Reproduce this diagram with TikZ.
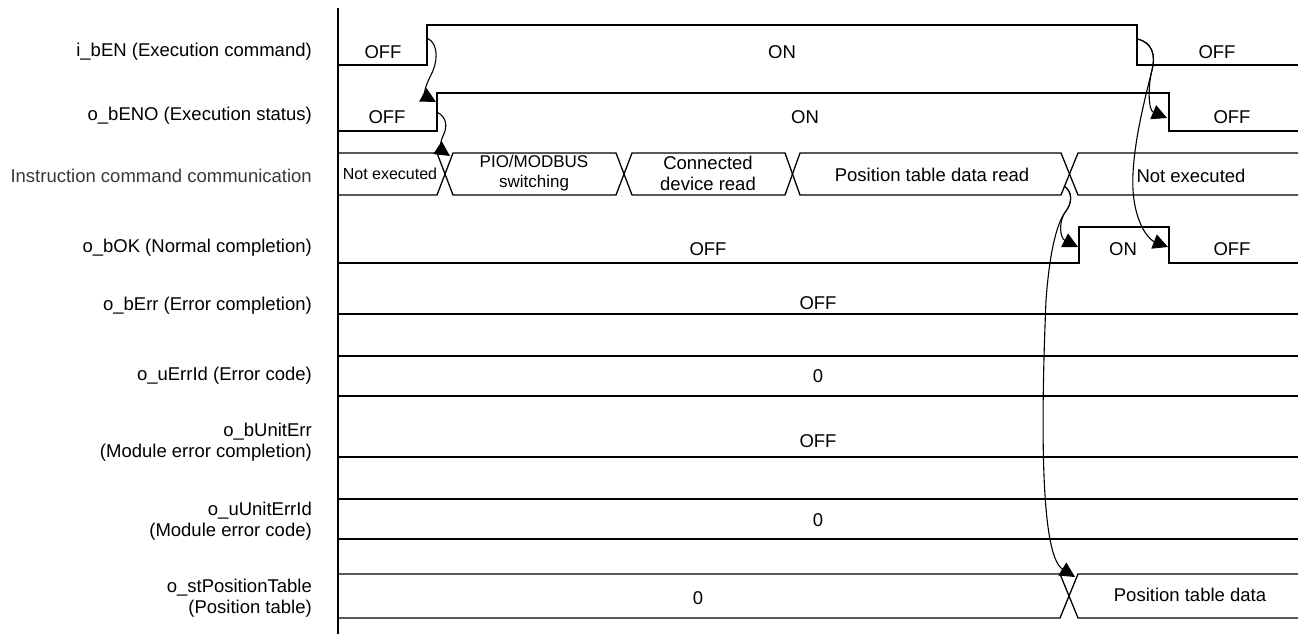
\documentclass[tikz,border=0pt]{standalone}
\usepackage{fontspec}
\setmainfont{Liberation Sans}
\usetikzlibrary{arrows.meta}
\begin{document}
\begin{tikzpicture}[x=1pt,y=-1pt,
  sig/.style={line width=1.3pt, line join=miter},
  lbl/.style={anchor=east, inner sep=0pt, font=\fontsize{18.5}{21}\selectfont, align=right},
  val/.style={inner sep=0pt, font=\fontsize{18.5}{21}\selectfont, align=center},
  sval/.style={inner sep=0pt, font=\fontsize{17}{20}\selectfont, align=center},
  tval/.style={inner sep=0pt, font=\fontsize{16}{19}\selectfont},
  cause/.style={line width=1.1pt, -{Triangle[length=15pt,width=15pt]}}]
\useasboundingbox (0,0) rectangle (1300,634);

% axis
\draw[sig] (338,8) -- (338,634);

% row labels
\node[lbl] (l1) at (312,52) {i\_bEN (Execution command)};
\node[lbl] (l2) at (312,116) {o\_bENO (Execution status)};
\node[lbl, text=black!78] (l3) at (312,176) {Instruction command communication};
\node[lbl] (l4) at (312,248) {o\_bOK (Normal completion)};
\node[lbl] (l5) at (312,306) {o\_bErr (Error completion)};
\node[lbl] (l6) at (312,376) {o\_uErrId (Error code)};
\node[lbl] (l7) at (312,442) {o\_bUnitErr\\(Module error completion)};
\node[lbl] (l8) at (312,521) {o\_uUnitErrId\\(Module error code)};
\node[lbl] (l9) at (312,598) {o\_stPositionTable\\(Position table)};

% row 1: i_bEN
\draw[sig] (338,65) -- (427,65) -- (427,25) -- (1137,25) -- (1137,65) -- (1298,65);
\node[val] (v1a) at (383,52) {OFF};
\node[val] (v1b) at (782,52) {ON};
\node[val] (v1c) at (1217,52) {OFF};

% row 2: o_bENO
\draw[sig] (338,131) -- (437,131) -- (437,93) -- (1169,93) -- (1169,131) -- (1298,131);
\node[val] (v2a) at (387,117) {OFF};
\node[val] (v2b) at (805,117) {ON};
\node[val] (v2c) at (1232,117) {OFF};

% row 3: communication
\draw[sig] (338,153) -- (437,153) -- (453,195) -- (616,195) -- (632,153) -- (785,153) -- (800,195) -- (1061,195) -- (1078,153) -- (1298,153);
\draw[sig] (338,195) -- (437,195) -- (453,153) -- (616,153) -- (632,195) -- (785,195) -- (800,153) -- (1061,153) -- (1078,195) -- (1298,195);
\node[tval] (v3a) at (390,174) {Not executed};
\node[sval] (v3b) at (534,173) {PIO/MODBUS\\switching};
\node[val] (v3c) at (708,173) {Connected\\device read};
\node[val] (v3d) at (932,175) {Position table data read};
\node[val] (v3e) at (1191,176) {Not executed};

% row 4: o_bOK
\draw[sig] (338,263) -- (1079,263) -- (1079,227) -- (1169,227) -- (1169,263) -- (1298,263);
\node[val] (v4a) at (708,249) {OFF};
\node[val] (v4b) at (1123,249) {ON};
\node[val] (v4c) at (1232,249) {OFF};

% row 5: o_bErr
\draw[sig] (338,314) -- (1298,314);
\node[val] (v5) at (818,303) {OFF};

% row 6: o_uErrId
\draw[sig] (338,356) -- (1298,356);
\draw[sig] (338,396) -- (1298,396);
\node[val] (v6) at (818,376) {0};

% row 7: o_bUnitErr
\draw[sig] (338,457) -- (1298,457);
\node[val] (v7) at (818,441) {OFF};

% row 8: o_uUnitErrId
\draw[sig] (338,499) -- (1298,499);
\draw[sig] (338,539) -- (1298,539);
\node[val] (v8) at (818,520) {0};

% row 9: o_stPositionTable
\draw[sig] (338,574) -- (1060,574) -- (1078,618) -- (1298,618);
\draw[sig] (338,618) -- (1060,618) -- (1078,574) -- (1298,574);
\node[val] (v9a) at (698,598) {0};
\node[val] (v9b) at (1190,595) {Position table data};

% cause points
\coordinate (enRise) at (427,38);
\coordinate (enoRise) at (436,102);
\coordinate (enoRiseS) at (437,112);
\coordinate (cmdX1) at (450,156);
\coordinate (enFall) at (1137,39);
\coordinate (enoFall) at (1167,118);
\coordinate (okFall) at (1168,247);
\coordinate (cmdX4) at (1064,186);
\coordinate (okRise) at (1078,247);
\coordinate (posX) at (1075,577);

% cause arrows
\draw[cause] (enRise) .. controls (440,44) and (437,64) .. (431,75) .. controls (423,90) and (425,96) .. (enoRise);
\draw[cause] (enoRiseS) .. controls (448,118) and (447,128) .. (443,136) .. controls (439,145) and (441,150) .. (cmdX1);
\draw[cause] (enFall) .. controls (1152,42) and (1156,55) .. (1152,70) .. controls (1148,86) and (1148,110) .. (enoFall);
\draw[cause] (enFall) .. controls (1152,42) and (1156,55) .. (1152,70) .. controls (1146,95) and (1128,160) .. (1134,200) .. controls (1138,228) and (1150,240) .. (okFall);
\draw[cause] (cmdX4) .. controls (1073,192) and (1072,203) .. (1066,211) .. controls (1058,221) and (1060,238) .. (okRise);
\draw[cause] (cmdX4) .. controls (1073,192) and (1072,203) .. (1066,211) .. controls (1055,225) and (1049,260) .. (1046,300) .. controls (1041,420) and (1040,555) .. (posX);
\end{tikzpicture}
\end{document}
